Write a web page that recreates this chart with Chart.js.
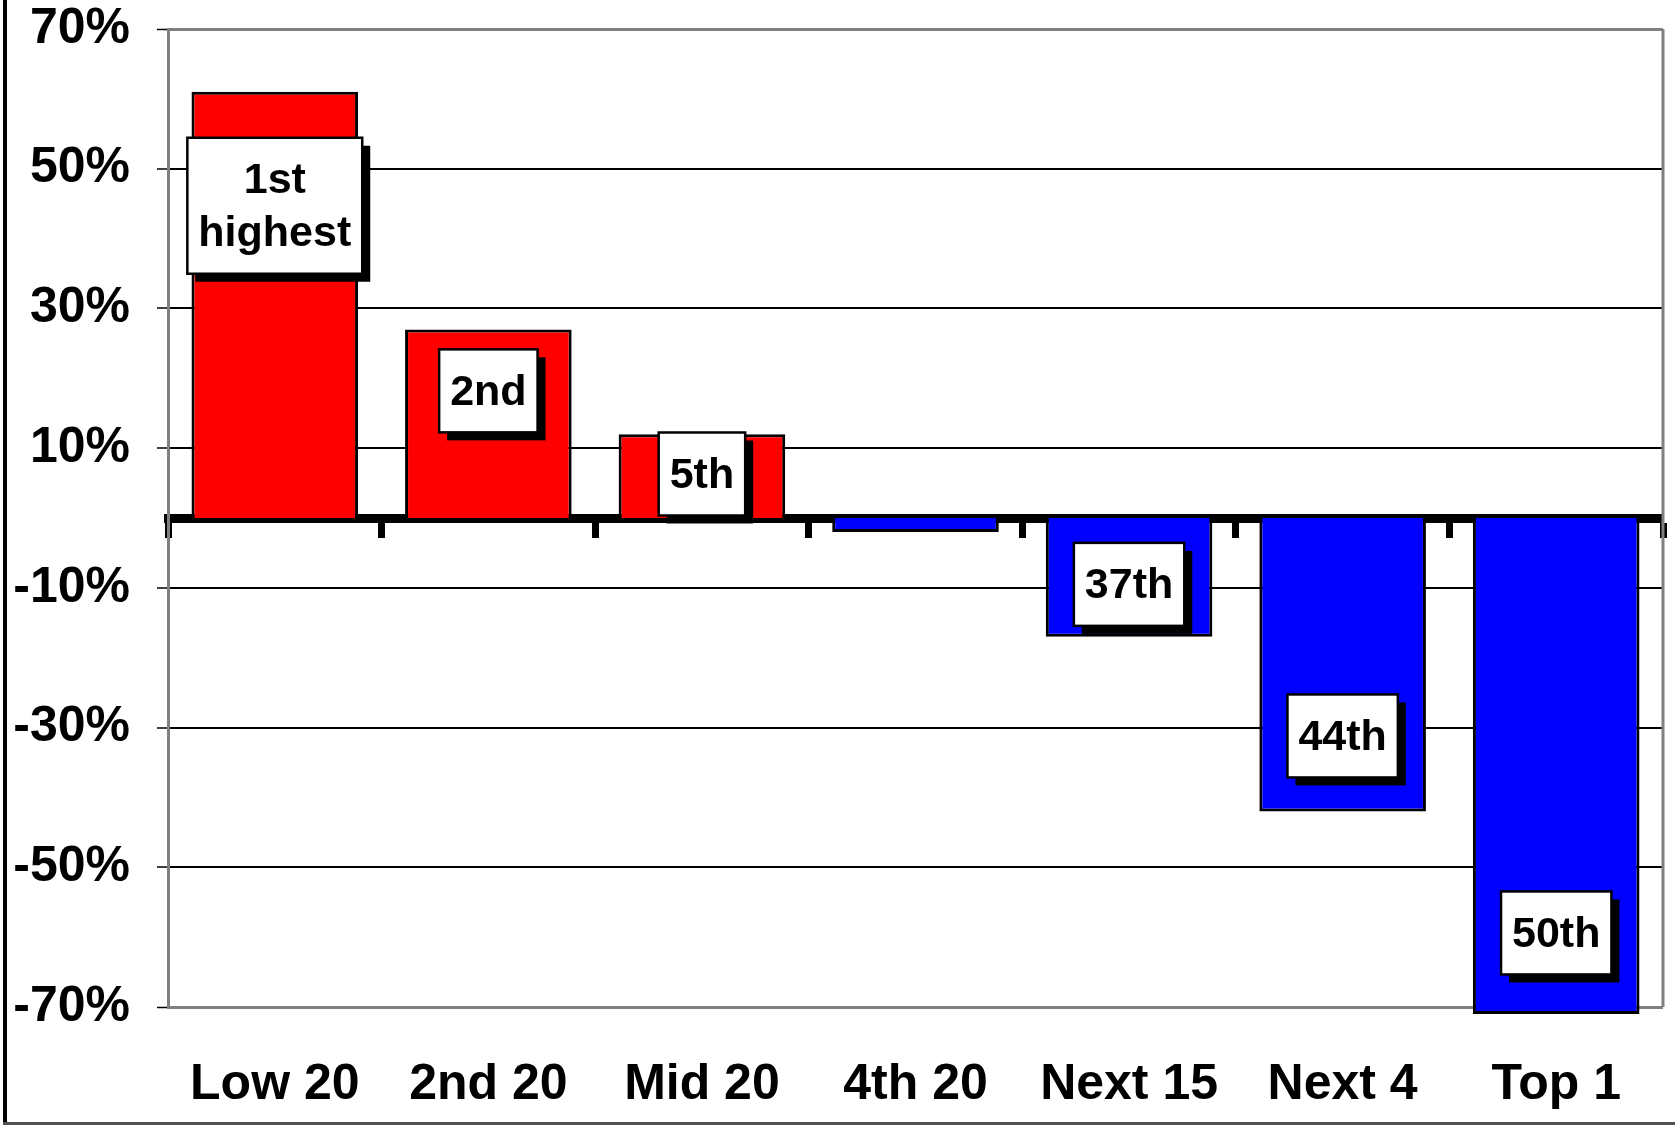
<!DOCTYPE html>
<html>
<head>
<meta charset="utf-8">
<script src="https://cdn.jsdelivr.net/npm/chart.js@4.4.1/dist/chart.umd.min.js"></script>
<style>
    html, body { margin: 0; padding: 0; background: #fff; }
    #wrap { width: 1675px; height: 1127px; position: relative; }
</style>
</head>
<body>
<div id="wrap"><canvas id="chart"></canvas></div>
<script>
const groups = ['Low 20', '2nd 20', 'Mid 20', '4th 20', 'Next 15', 'Next 4', 'Top 1'];
const changes = [61, 27, 12, -2, -17, -42, -71];
const rankLabels = [['1st', 'highest'], ['2nd'], ['5th'], [], ['37th'], ['44th'], ['50th']];
const rankLabelAt = [44.7, 18.2, 6.3, null, -9.5, -31.2, -59.4];
const yTicks = [-70, -50, -30, -10, 10, 30, 50, 70];

const FONT = '"Liberation Sans", Arial, Helvetica, sans-serif';

// gray frame on the right side + outer picture border
const framePlugin = {
    id: 'frame',
    beforeDatasetsDraw(chart) {
        const { ctx, chartArea: a } = chart;
        ctx.save();
        ctx.strokeStyle = '#808080';
        ctx.lineWidth = 3;
        ctx.beginPath();
        ctx.moveTo(a.right, a.top);
        ctx.lineTo(a.right, a.bottom);
        ctx.stroke();
        ctx.restore();
    },
    afterDraw(chart) {
        const { ctx, width, height } = chart;
        ctx.save();
        ctx.fillStyle = '#000';
        ctx.fillRect(3, 0, 4, height - 4);
        ctx.fillStyle = '#505050';
        ctx.fillRect(3, height - 5, width - 3, 3);
        ctx.restore();
    }
};

// white rank boxes with a black drop shadow
const rankBoxPlugin = {
    id: 'rankBoxes',
    afterDatasetsDraw(chart) {
        const { ctx } = chart;
        const xs = chart.scales.x;
        const ys = chart.scales.y;
        const lh = 53;
        ctx.save();
        ctx.font = 'bold 43px ' + FONT;
        ctx.textAlign = 'center';
        ctx.textBaseline = 'middle';
        rankLabels.forEach((lines, i) => {
            if (!lines.length) return;
            const cx = xs.getPixelForValue(i);
            const cy = ys.getPixelForValue(rankLabelAt[i]);
            const w = Math.max(...lines.map(t => ctx.measureText(t).width)) + 22;
            const h = lines.length * lh + 30;
            const left = cx - w / 2;
            const top = cy - h / 2;

            ctx.fillStyle = '#000';
            ctx.fillRect(left + 8, top + 8, w, h);
            ctx.fillStyle = '#fff';
            ctx.fillRect(left, top, w, h);
            ctx.strokeStyle = '#000';
            ctx.lineWidth = 2.5;
            ctx.strokeRect(left, top, w, h);

            ctx.fillStyle = '#000';
            lines.forEach((t, j) => {
                ctx.fillText(t, cx, cy + (j - (lines.length - 1) / 2) * lh + 2);
            });
        });
        ctx.restore();
    }
};

new Chart(document.getElementById('chart'), {
    type: 'bar',
    data: {
        labels: groups,
        datasets: [{
            data: changes,
            xAxisID: 'x',
            yAxisID: 'y',
            backgroundColor: changes.map(v => v >= 0 ? '#ff0000' : '#0000ff'),
            borderColor: '#000',
            borderWidth: 3,
            barPercentage: 0.78,
            categoryPercentage: 1,
            clip: false
        }]
    },
    options: {
        responsive: true,
        maintainAspectRatio: false,
        animation: false,
        layout: { padding: { top: 0, right: 12, bottom: 12, left: 0 } },
        plugins: {
            legend: { display: false },
            tooltip: { enabled: false }
        },
        scales: {
            x: {
                offset: true,
                afterFit: s => { s.height = 108; },
                grid: { display: false, drawTicks: false },
                border: { display: false },
                ticks: {
                    color: '#000',
                    padding: 48,
                    maxRotation: 0,
                    autoSkip: false,
                    font: { family: FONT, size: 50, weight: 'bold' }
                }
            },
            // thick zero line with hanging tick marks
            x2: {
                type: 'category',
                position: { y: 0 },
                offset: true,
                z: 1,
                grid: {
                    offset: true,
                    drawOnChartArea: false,
                    drawTicks: true,
                    tickLength: 15,
                    tickWidth: 7,
                    tickColor: '#000'
                },
                border: { display: true, color: '#000', width: 9 },
                ticks: { display: false }
            },
            y: {
                min: -70,
                max: 70,
                afterFit: s => {
                    s.width = 168;
                    s.paddingTop = 29;
                    s.paddingBottom = 29;
                },
                afterBuildTicks: s => { s.ticks = yTicks.map(v => ({ value: v })); },
                grid: {
                    color: c => Math.abs(c.tick.value) === 70 ? '#808080' : '#000',
                    lineWidth: c => Math.abs(c.tick.value) === 70 ? 3 : 2,
                    tickLength: 11,
                    tickColor: '#000',
                    tickWidth: 1.5
                },
                border: { color: '#808080', width: 3 },
                ticks: {
                    color: '#000',
                    padding: 27,
                    font: { family: FONT, size: 50, weight: 'bold' },
                    callback: v => v + '%'
                }
            }
        }
    },
    plugins: [framePlugin, rankBoxPlugin]
});
</script>
</body>
</html>
